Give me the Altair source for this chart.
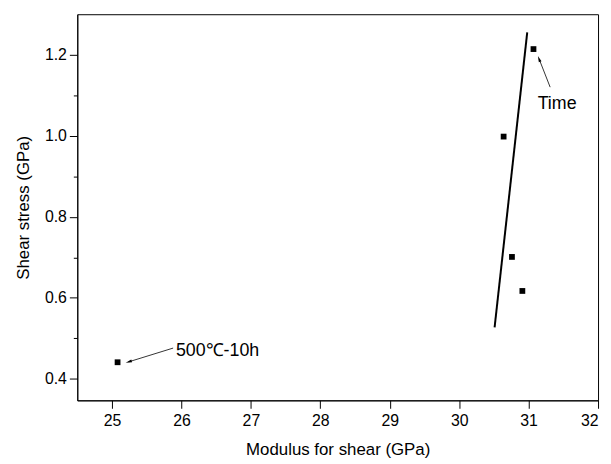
import altair as alt
import pandas as pd

# data points
modulus = [25.08, 30.64, 30.76, 30.91, 31.07]
stress = [0.441, 0.998, 0.701, 0.617, 1.214]

# fitted line
fit_x = [30.51, 30.98]
fit_y = [0.527, 1.255]

# annotations
ann_text = ["Time", "500℃-10h"]
ann_x = [31.13, 25.92]
ann_y = [1.078, 0.469]
arrow_x = [31.31, 25.88]
arrow_y = [1.12, 0.476]
arrow_x2 = [31.15, 25.24]
arrow_y2 = [1.19, 0.442]
arrow_angle = [339, 253]

x_ticks = [25, 25.5, 26, 26.5, 27, 27.5, 28, 28.5, 29, 29.5, 30, 30.5, 31, 31.5, 32]
y_ticks = [0.4, 0.5, 0.6, 0.7, 0.8, 0.9, 1.0, 1.1, 1.2]

FONT = "Liberation Sans"

pts = pd.DataFrame({"x": modulus, "y": stress})
fit = pd.DataFrame({"x": fit_x, "y": fit_y})
ann = pd.DataFrame({"t": ann_text, "x": ann_x, "y": ann_y})
arr = pd.DataFrame({"x": arrow_x, "y": arrow_y, "x2": arrow_x2, "y2": arrow_y2, "a": arrow_angle})

xscale = alt.Scale(domain=[24.5, 32], nice=False, zero=False)
yscale = alt.Scale(domain=[0.347, 1.3], nice=False, zero=False)

xaxis = alt.Axis(
    title="Modulus for shear (GPa)",
    values=x_ticks,
    labelExpr="datum.value % 1 === 0 ? datum.label : ''",
    format=".0f",
    tickSize={"condition": {"test": "datum.value % 1 !== 0", "value": 4}, "value": 8},
    grid=False,
    labelPadding=4,
    titlePadding=14,
)
yaxis = alt.Axis(
    title="Shear stress (GPa)",
    values=y_ticks,
    format=".1f",
    labelExpr="abs(round(datum.value*10) % 2) === 0 ? datum.label : ''",
    tickSize={"condition": {"test": "abs(round(datum.value*10) % 2) === 1", "value": 4}, "value": 8},
    grid=False,
    labelPadding=3,
    titlePadding=12,
)

base_x = alt.X("x:Q", scale=xscale, axis=xaxis)
base_y = alt.Y("y:Q", scale=yscale, axis=yaxis)

points = alt.Chart(pts).mark_square(size=34, color="black", opacity=1).encode(x=base_x, y=base_y)
line = alt.Chart(fit).mark_line(color="black", strokeWidth=2).encode(x="x:Q", y="y:Q")
texts = alt.Chart(ann).mark_text(align="left", baseline="middle", fontSize=18, font=FONT, color="black").encode(
    x="x:Q", y="y:Q", text="t:N")
arrow_lines = alt.Chart(arr).mark_rule(color="black", strokeWidth=0.8).encode(
    x="x:Q", y="y:Q", x2="x2:Q", y2="y2:Q")
arrow_heads = alt.Chart(arr).mark_point(
    shape="M0,-1L-0.45,1L0.45,1Z", filled=True, color="black", size=40, opacity=1
).encode(x="x2:Q", y="y2:Q", angle=alt.Angle("a:Q", scale=None))

chart = alt.layer(points, line, arrow_lines, arrow_heads, texts).properties(
    width=526, height=390,
    autosize=alt.AutoSizeParams(type="none"),
    padding={"left": 70, "top": 4, "right": 5, "bottom": 62},
    background="white",
).configure_view(
    stroke="black", strokeWidth=1
).configure_axis(
    domainColor="black", tickColor="black", labelColor="black", titleColor="black",
    labelFont=FONT, titleFont=FONT, labelFontSize=16, titleFontSize=17,
    titleFontWeight="normal", domainWidth=1, tickWidth=1,
)

chart.save("out.html", embed_options={"renderer": "svg", "actions": False})
